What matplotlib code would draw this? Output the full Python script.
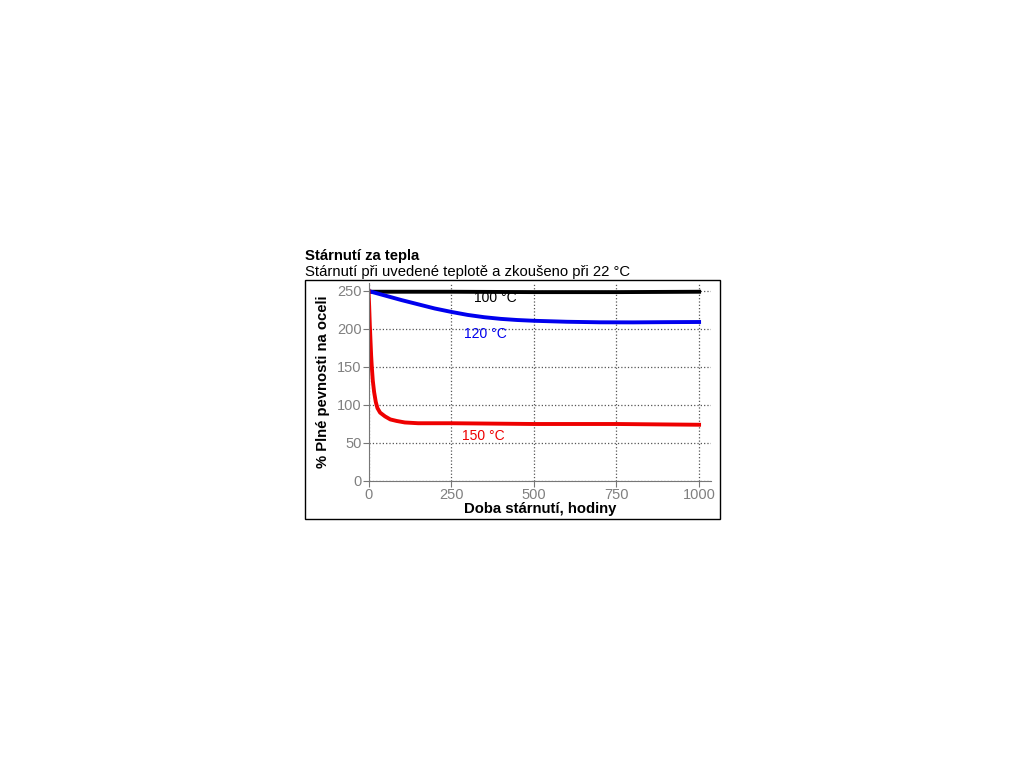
import matplotlib.pyplot as plt
from matplotlib.patches import Rectangle

plt.rcParams['font.family'] = ['Liberation Sans', 'DejaVu Sans']

# data (hodiny, % plné pevnosti)
t100 = [0, 100, 250, 500, 750, 1000]
v100 = [249, 249, 249, 248.5, 248.5, 249]

t120 = [0, 50, 100, 150, 200, 250, 300, 350, 400, 450, 500, 600, 700, 800, 900, 1000]
v120 = [250, 244, 238, 232.5, 227, 222.5, 218.5, 215.5, 213.3, 211.8, 210.8, 209.5,
        208.8, 208.7, 209, 209.2]

t150 = [0, 2, 4, 6, 8, 10, 13, 17, 22, 27, 35, 50, 66, 85, 110, 150, 250, 500, 750, 1000]
v150 = [250, 230, 205, 185, 165, 150, 132, 117, 104, 96, 90, 85, 81, 79, 77, 76, 76, 75, 75, 74]

xticks = [0, 250, 500, 750, 1000]
yticks = [0, 50, 100, 150, 200, 250]

fig = plt.figure(figsize=(10.24, 7.68), dpi=100)

# ramecek kolem grafu
fig.patches.append(Rectangle((305 / 1024, 1 - 519 / 768), 415 / 1024, 239 / 768,
                             transform=fig.transFigure, fill=False,
                             edgecolor='black', linewidth=1))

ax = fig.add_axes([368.5 / 1024, 1 - 481 / 768, 342.5 / 1024, 198 / 768])
ax.plot(t100, v100, color='black', linewidth=2.8)
ax.plot(t120, v120, color='#0000ee', linewidth=2.8)
ax.plot(t150, v150, color='#ee0000', linewidth=2.8)

ax.text(384, 241, '100 °C', color='black', fontsize=10, ha='center', va='center')
ax.text(353, 193, '120 °C', color='#0000ee', fontsize=10, ha='center', va='center')
ax.text(347, 59, '150 °C', color='#ee0000', fontsize=10, ha='center', va='center')

ax.set_xlim(0, 1036)
ax.set_ylim(0, 260.5)
ax.set_xticks(xticks)
ax.set_yticks(yticks)
ax.grid(True, color='#555555', linestyle=':', linewidth=0.9)
ax.set_axisbelow(True)
for s in ['top', 'right']:
    ax.spines[s].set_visible(False)
for s in ['left', 'bottom']:
    ax.spines[s].set_color('#777777')
ax.tick_params(colors='#777777', labelcolor='#808080', labelsize=10.5, length=4, pad=1)

ax.set_xlabel('Doba stárnutí, hodiny', fontsize=10.7, fontweight='bold', labelpad=0)
ax.set_ylabel('% Plné pevnosti na oceli', fontsize=10.7, fontweight='bold', labelpad=5)

fig.text(305 / 1024, 1 - 256 / 768, 'Stárnutí za tepla', fontsize=10.7, fontweight='bold',
         va='center', ha='left')
fig.text(305 / 1024, 1 - 272 / 768, 'Stárnutí při uvedené teplotě a zkoušeno při 22 °C',
         fontsize=10.7, va='center', ha='left')

fig.savefig('out.png', dpi=100)
